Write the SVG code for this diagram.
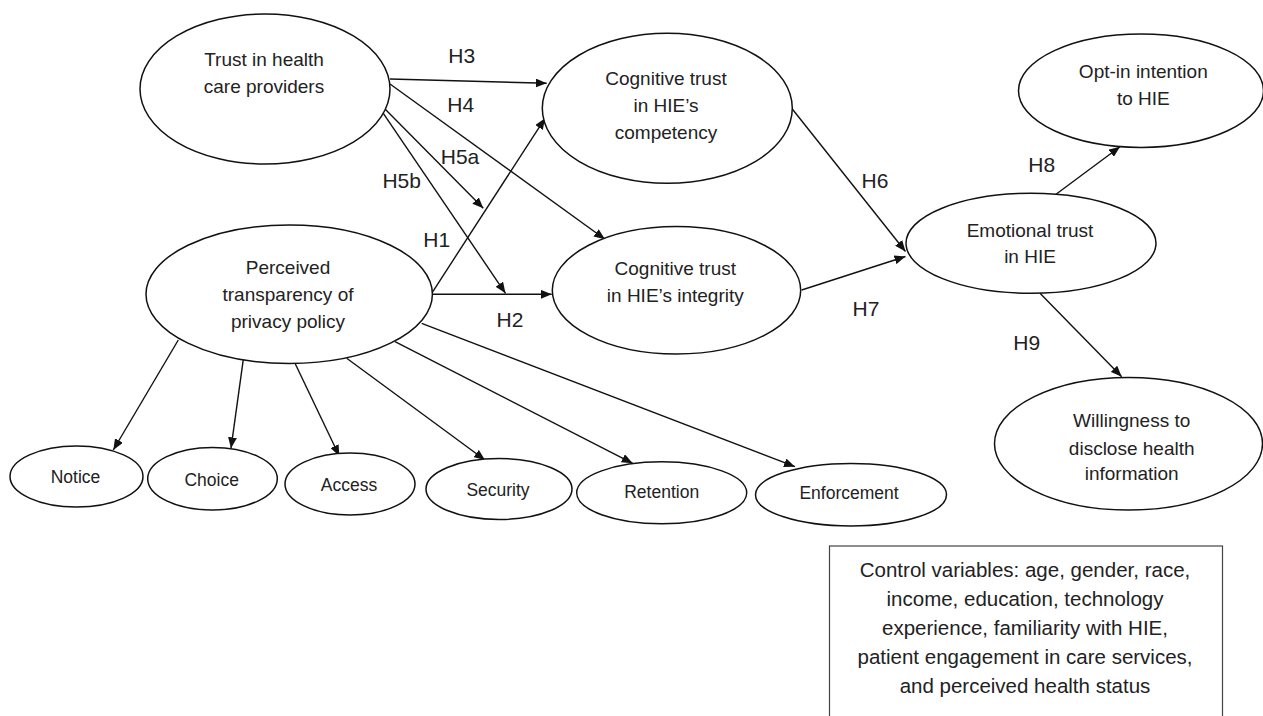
<svg xmlns="http://www.w3.org/2000/svg" width="1263" height="716" viewBox="0 0 1263 716">
<defs>
<marker id="ah" viewBox="0 0 11 9" refX="11" refY="4.5" markerWidth="11" markerHeight="9" markerUnits="userSpaceOnUse" orient="auto">
<path d="M0,0 L11,4.5 L0,9 z" fill="#111"/>
</marker>
<style>
.n ellipse{fill:#fff;stroke:#111;stroke-width:1.5}
.t{font-family:"Liberation Sans",Arial,sans-serif;font-size:19px;fill:#222;text-anchor:middle}
.s{font-family:"Liberation Sans",Arial,sans-serif;font-size:17.5px;fill:#222;text-anchor:middle}
.h{font-family:"Liberation Sans",Arial,sans-serif;font-size:21px;fill:#222;text-anchor:middle}
.b{font-family:"Liberation Sans",Arial,sans-serif;font-size:20.5px;fill:#222;text-anchor:middle}
#edges line{stroke:#111;stroke-width:1.4;marker-end:url(#ah)}
</style>
</defs>
<rect width="1263" height="716" fill="#fff"/>

<g id="edges">
<line x1="390" y1="79" x2="546.7" y2="83.3"/>
<line x1="390" y1="84" x2="605" y2="239.3"/>
<line x1="385" y1="109" x2="483.3" y2="208.3"/>
<line x1="383.3" y1="113.3" x2="505.5" y2="293.3"/>
<line x1="431.7" y1="293.3" x2="545" y2="118.3"/>
<line x1="431.7" y1="294.3" x2="551.7" y2="294.3"/>
<line x1="791.7" y1="108.3" x2="905.5" y2="251.5"/>
<line x1="801.7" y1="290" x2="905.5" y2="256.5"/>
<line x1="1055" y1="195" x2="1120" y2="146.7"/>
<line x1="1040" y1="293.3" x2="1121.7" y2="376.7"/>
<line x1="178.3" y1="340" x2="113.3" y2="450"/>
<line x1="243.3" y1="359.3" x2="231" y2="448.3"/>
<line x1="295" y1="363.3" x2="339.3" y2="456"/>
<line x1="346.7" y1="358.3" x2="485" y2="460"/>
<line x1="395" y1="341.7" x2="632.7" y2="463.3"/>
<line x1="421.7" y1="323.3" x2="795" y2="466.7"/>
</g>

<g id="labels">
<text class="h" x="461.7" y="63.3">H3</text>
<text class="h" x="460.7" y="111.7">H4</text>
<text class="h" x="460" y="164">H5a</text>
<text class="h" x="401.7" y="188.3">H5b</text>
<text class="h" x="436.7" y="246.7">H1</text>
<text class="h" x="510" y="326.7">H2</text>
<text class="h" x="875" y="188.3">H6</text>
<text class="h" x="866" y="316">H7</text>
<text class="h" x="1041.7" y="171.7">H8</text>
<text class="h" x="1026.7" y="350">H9</text>
</g>

<g id="trust-providers" class="n">
<ellipse cx="265" cy="89" rx="125" ry="75"/>
<text class="t" x="264" y="65.7">Trust in health</text>
<text class="t" x="264" y="92.7">care providers</text>
</g>

<g id="transparency" class="n">
<ellipse cx="289.2" cy="294.2" rx="143.2" ry="69.2"/>
<text class="t" x="288" y="274">Perceived</text>
<text class="t" x="288" y="301">transparency of</text>
<text class="t" x="288" y="328">privacy policy</text>
</g>

<g id="competency" class="n">
<ellipse cx="667.3" cy="108.3" rx="125" ry="75"/>
<text class="t" x="666" y="85">Cognitive trust</text>
<text class="t" x="666" y="112">in HIE’s</text>
<text class="t" x="666" y="138.5">competency</text>
</g>

<g id="integrity" class="n">
<ellipse cx="676.5" cy="290.3" rx="124.2" ry="63.7"/>
<text class="t" x="675.3" y="275">Cognitive trust</text>
<text class="t" x="675.3" y="301.7">in HIE’s integrity</text>
</g>

<g id="emotional" class="n">
<ellipse cx="1031" cy="243.3" rx="125" ry="50"/>
<text class="t" x="1030" y="236.7">Emotional trust</text>
<text class="t" x="1030" y="263.3">in HIE</text>
</g>

<g id="optin" class="n">
<ellipse cx="1141" cy="90.7" rx="122.5" ry="56.7"/>
<text class="t" x="1143.3" y="78.3">Opt-in intention</text>
<text class="t" x="1143.3" y="105">to HIE</text>
</g>

<g id="willingness" class="n">
<ellipse cx="1128.5" cy="443.7" rx="134" ry="66.3"/>
<text class="t" x="1131.7" y="426.7">Willingness to</text>
<text class="t" x="1131.7" y="455">disclose health</text>
<text class="t" x="1131.7" y="480">information</text>
</g>

<g id="notice" class="n">
<ellipse cx="76.5" cy="476.5" rx="66.5" ry="30.5"/>
<text class="s" x="75.5" y="482.7">Notice</text>
</g>
<g id="choice" class="n">
<ellipse cx="212.5" cy="478.7" rx="64.8" ry="31.3"/>
<text class="s" x="211.7" y="486">Choice</text>
</g>
<g id="access" class="n">
<ellipse cx="350" cy="484" rx="65" ry="31"/>
<text class="s" x="349" y="490.7">Access</text>
</g>
<g id="security" class="n">
<ellipse cx="499" cy="489" rx="73" ry="30.5"/>
<text class="s" x="498" y="496">Security</text>
</g>
<g id="retention" class="n">
<ellipse cx="661.7" cy="492.8" rx="85" ry="31"/>
<text class="s" x="661.7" y="498.3">Retention</text>
</g>
<g id="enforcement" class="n">
<ellipse cx="851" cy="494.7" rx="95.5" ry="31.3"/>
<text class="s" x="849" y="498.5">Enforcement</text>
</g>

<g id="controls">
<rect x="829.5" y="546" width="393" height="200" fill="#fff" stroke="#444" stroke-width="1.2"/>
<text class="b" x="1025" y="577">Control variables: age, gender, race,</text>
<text class="b" x="1025" y="606">income, education, technology</text>
<text class="b" x="1025" y="635">experience, familiarity with HIE,</text>
<text class="b" x="1025" y="664">patient engagement in care services,</text>
<text class="b" x="1025" y="693">and perceived health status</text>
</g>
</svg>
